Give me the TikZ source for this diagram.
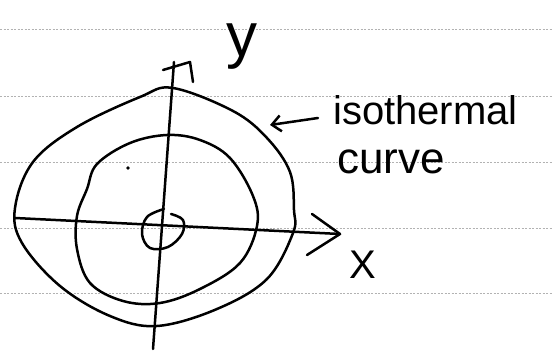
\documentclass[tikz,border=0pt]{standalone}
\usepackage{fontspec}
\setmainfont{Liberation Sans}
\usetikzlibrary{arrows.meta}
\begin{document}
\begin{tikzpicture}[x=1pt,y=-1pt,
  pen/.style={line width=2.5pt,line cap=round,line join=round,black},
  ruled/.style={gray!60,line width=0.6pt,dash pattern=on 2pt off 1.5pt},
  lbl/.style={inner sep=0pt,black}]
\useasboundingbox[fill=white] (0,0) rectangle (552,352);
% ruled paper lines
\foreach \yy in {29,96,162,228,293}
  \draw[ruled] (0,\yy) -- (552,\yy);
% axes
\coordinate (ytop) at (174,62);
\coordinate (ybot) at (153,349);
\coordinate (xleft) at (15,218);
\coordinate (xright) at (340,234);
\draw[pen] (ybot) -- (ytop);
\draw[pen] (163,70) -- (190,62) -- (193,82);
\draw[pen] (xleft) -- (xright);
\draw[pen] (312,214) -- (xright) -- (307,255);
% outer isothermal
\draw[pen] plot[smooth cycle,tension=0.6] coordinates {
 (173,88) (233,111) (267,138) (290,172) (294,210) (293,233) (267,279) (217,309)
 (157,326) (110,316) (60,286) (22,243) (15,208) (33,162) (77,127) (140,97)};
% middle isothermal
\draw[pen] plot[smooth cycle,tension=0.6] coordinates {
 (167,135) (200,140) (230,158) (253,196) (257,226) (240,263) (200,289)
 (160,303) (123,301) (90,283) (77,249) (77,216) (87,189) (97,164) (130,143)};
% inner loop
\draw[pen] plot[smooth,tension=0.6] coordinates {
 (164,209) (147,217) (142,234) (150,248) (168,247) (182,234) (183,220) (171,214)};
% dot
\fill (128,168) circle (1.8pt);
% labels
\node[lbl,font=\fontsize{62}{62}\selectfont,anchor=base] (ylab) at (242,57) {y};
\node[lbl,font=\fontsize{40}{40}\selectfont] (xlab) at (363,265) {X};
\node[lbl,font=\fontsize{40}{40}\selectfont,anchor=base west] (iso) at (333,125) {isothermal};
\node[lbl,font=\fontsize{44}{44}\selectfont,anchor=base west] (crv) at (337,174) {curve};
% pointer arrow
\coordinate (ptip) at (270,125);
\coordinate (pstart) at (318,118);
\draw[pen,-{Straight Barb[length=9pt,width=16pt,line width=2.5pt]}] (pstart) -- (ptip);
\end{tikzpicture}
\end{document}
